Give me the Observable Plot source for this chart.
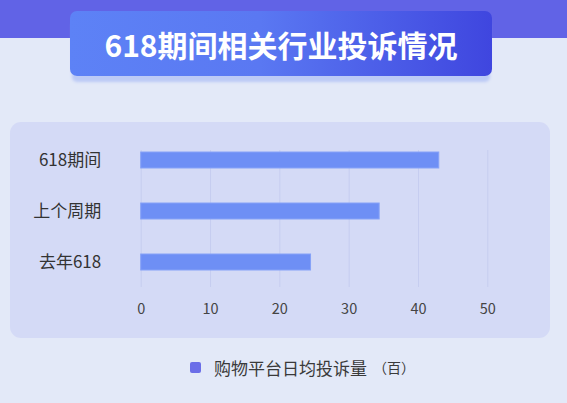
<!DOCTYPE html>
<html>
<head>
<meta charset="utf-8">
<script src="https://cdn.jsdelivr.net/npm/d3@7"></script>
<script src="https://cdn.jsdelivr.net/npm/@observablehq/plot@0.6"></script>
<style>
  html, body { margin: 0; padding: 0; }
  body {
    width: 567px; height: 403px; position: relative; overflow: hidden;
    background: #e3e9f8;
    font-family: "Noto Sans CJK SC", "Noto Sans", sans-serif;
  }
  #band { position: absolute; left: 0; top: 0; width: 567px; height: 38px; background: #6163e6; }
  #titlebox {
    position: absolute; left: 70px; top: 11px; width: 422px; height: 65px;
    border-radius: 7px;
    background: linear-gradient(90deg, #5d82f6 0%, #5a78f2 45%, #3f46df 100%);
    box-shadow: 0 8px 3px -2px #bccaf6;
    color: #fff; font-weight: bold; font-size: 30px;
    display: flex; align-items: center; justify-content: center;
  }
  #panel {
    position: absolute; left: 10px; top: 122px; width: 540px; height: 216px;
    border-radius: 11px; background: #d4daf6;
  }
  #chart { position: absolute; left: 0; top: 122px; }
  #legend {
    position: absolute; left: 190px; top: 356px; height: 22px;
    display: flex; align-items: center; color: #3a3a3a; font-size: 17px;
  }
  #legend .sw { width: 11px; height: 11px; border-radius: 2px; background: #6b6ee8; margin-right: 13px; }
  #legend .unit { font-size: 14px; margin-left: 6px; }
</style>
</head>
<body>
<div id="band"></div>
<div id="titlebox">618期间相关行业投诉情况</div>
<div id="panel"></div>
<div id="chart"></div>
<div id="legend"><div class="sw"></div><span>购物平台日均投诉量</span><span class="unit">（百）</span></div>
<script>
const categories = ["618期间", "上个周期", "去年618"];
const values = [43, 34.4, 24.5];
const xTicks = [0, 10, 20, 30, 40, 50];

const data = categories.map((c, i) => ({category: c, value: values[i]}));

const plot = Plot.plot({
  width: 567,
  height: 216,
  marginLeft: 140.7,
  marginRight: 79.7,
  marginTop: 28,
  marginBottom: 51,
  style: {background: "transparent", fontFamily: "'Noto Sans CJK SC', 'Noto Sans', sans-serif"},
  x: {domain: [0, 50], ticks: xTicks, label: null},
  y: {domain: categories, paddingInner: 0.677, paddingOuter: 0.163, align: 0.1, label: null},
  marks: [
    Plot.gridX(xTicks, {stroke: "#c6cdf0", strokeOpacity: 1, strokeWidth: 1}),
    Plot.barX(data, {x: "value", y: "category", fill: "#6e8ff5", stroke: "#86a2f7", strokeWidth: 1}),
    Plot.axisX(xTicks, {tickSize: 0, tickPadding: 16, fontSize: 14.5, fill: "#444", label: null}),
    Plot.axisY({tickSize: 0, tickPadding: 40, fontSize: 17, fill: "#333", label: null})
  ]
});
document.getElementById("chart").appendChild(plot);
</script>
</body>
</html>
